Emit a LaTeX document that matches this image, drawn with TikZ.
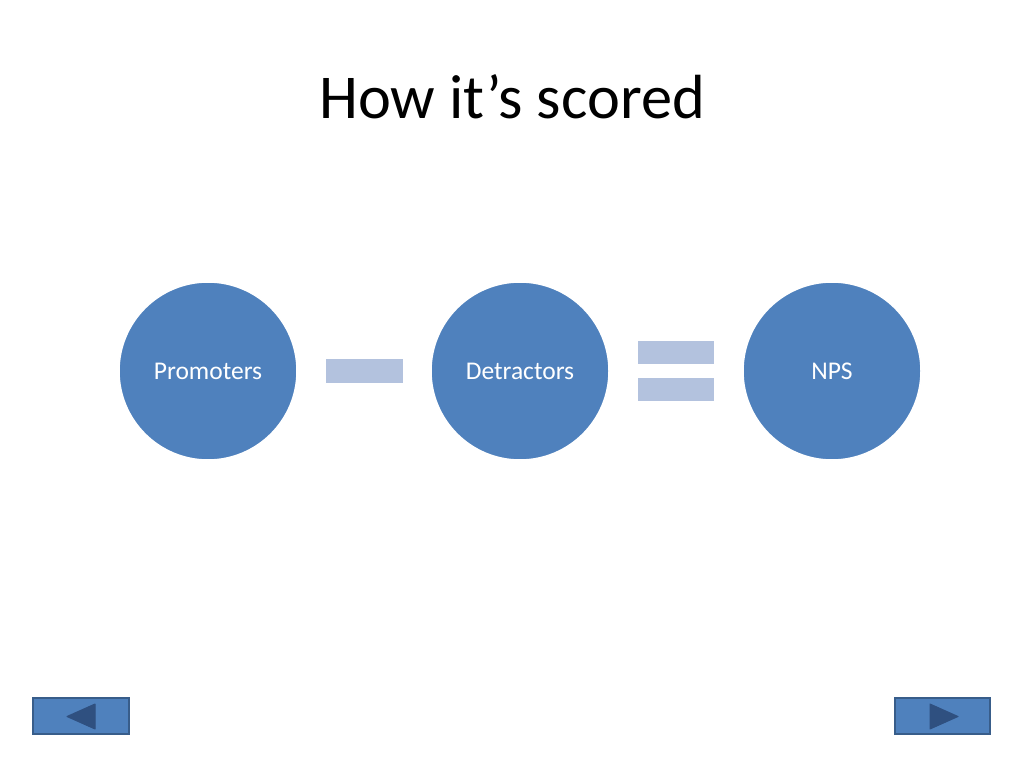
\documentclass[tikz,border=0pt]{standalone}
\usepackage{fontspec}
\setmainfont{Carlito}
\definecolor{acc}{HTML}{4F81BD}
\definecolor{light}{HTML}{B3C2DE}
\definecolor{edge}{HTML}{385D8A}
\definecolor{tri}{HTML}{2F5080}
\begin{document}
\begin{tikzpicture}[x=1bp,y=-1bp,
  bubble/.style={circle,fill=acc,draw=white,line width=1.5bp,minimum size=178bp,inner sep=0pt,text=white,font=\fontsize{25.6}{30}\selectfont},
  bar/.style={fill=light,draw=none,inner sep=0pt},
  navbtn/.style={fill=acc,draw=edge,line width=1.5bp},
  navtri/.style={fill=tri,draw=tri,line width=1bp,line join=round}]
\useasboundingbox (0,0) rectangle (1024,768);
\node[font=\fontsize{62.6}{70}\selectfont] (title) at (512,97) {How it’s scored};
\node[bubble] (prom) at (208,371) {Promoters};
\node[bubble] (detr) at (520,371) {Detractors};
\node[bubble] (nps) at (832,371) {NPS};
\node[bar,minimum width=77bp,minimum height=24bp] (minus) at (364.5,371) {};
\node[bar,minimum width=76bp,minimum height=23bp] (eqtop) at (676,352.5) {};
\node[bar,minimum width=76bp,minimum height=23bp] (eqbot) at (676,389.5) {};
\node[navbtn,minimum width=96bp,minimum height=36bp,inner sep=0pt] (back) at (81,716) {};
\node[navbtn,minimum width=95bp,minimum height=36bp,inner sep=0pt] (fwd) at (942.5,716) {};
\draw[navtri] (95,704) -- (95,729) -- (67,716.5) -- cycle;
\draw[navtri] (930,704) -- (930,729) -- (958,716.5) -- cycle;
\end{tikzpicture}
\end{document}
